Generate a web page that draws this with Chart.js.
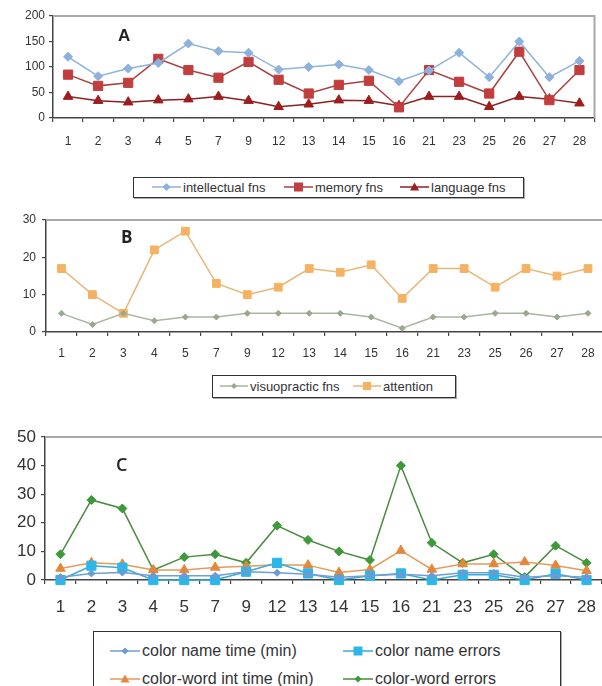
<!DOCTYPE html>
<html><head><meta charset="utf-8">
<script src="https://cdn.jsdelivr.net/npm/chart.js@4.4.1/dist/chart.umd.min.js"></script>
<style>
html,body{margin:0;padding:0;background:#fff;width:602px;height:686px;overflow:hidden;position:relative;font-family:"Liberation Sans",Arial,sans-serif;}
.wrap{position:absolute;left:0;}
.legend{position:absolute;border:1px solid #333;background:#fff;box-shadow:1px 1px 0 #aaa;color:#333;}
.item{position:absolute;display:flex;align-items:center;white-space:nowrap;line-height:1;}
.letter{position:absolute;color:#222;}
</style></head><body>
<div class="wrap" style="top:0px"><canvas id="cA" width="602" height="160"></canvas></div>
<div class="wrap" style="top:200px"><canvas id="cB" width="610" height="170"></canvas></div>
<div class="wrap" style="top:420px"><canvas id="cC" width="610" height="200"></canvas></div>
<div class="legend" id="legA" style="left:133px;top:177px;width:389px;height:19px"></div>
<div class="legend" id="legB" style="left:212px;top:375px;width:242px;height:21px"></div>
<div class="legend" id="legC" style="left:93px;top:631px;width:466px;height:62px"></div>
<div class="letter" style="left:118px;top:26px;font:bold 17px 'Liberation Sans',Arial,sans-serif">A</div>
<div class="letter" style="left:121px;top:225px;font:bold 17px 'Open Sans',sans-serif">B</div>
<div class="letter" style="left:116px;top:452px;font:600 18px 'Open Sans',sans-serif">C</div>
<script>
// ---- data ----
const categories = ['1','2','3','4','5','7','9','12','13','14','15','16','21','23','25','26','27','28'];
// Panel A
const intellectualFns = [120,82,97,108,146,131,128,95,100,105,94,72,93,128,80,150,80,112];
const memoryFns       = [85,63,69,116,94,79,110,75,48,65,73,21,94,71,48,130,35,94];
const languageFns     = [42,34,31,35,37,42,34,22,27,35,34,24,42,42,22,42,37,29];
// Panel B
const visuopracticFns = [5,2,5,3,4,4,5,5,5,5,4,1,4,4,5,5,4,5];
const attention       = [17,10,5,22,27,13,10,12,17,16,18,9,17,17,12,17,15,17];
// Panel C
const colorNameTime   = [1,2.3,2.6,1.5,1.5,1.5,2.9,2.5,2,1,1.5,2,1.5,2.5,2.5,1,1.5,1];
const colorNameErrors = [0,5,4.3,0,0,0,2.9,6,2.3,0,1.5,2.3,0,1.8,1.8,0,2.2,0];
const colorWordTime   = [4,6,5.5,3.5,3.5,4.4,4.8,5.3,5.2,2.6,3.7,10.3,3.7,5.6,5.6,6.3,5.1,3.2];
const colorWordErrors = [9,28,25,3.5,8,9,6,19,14,10,7,40,13,6,9,1,12,6];
// y tick settings
const yTicksA = {max:200, step:50};
const yTicksB = {max:30, step:10};
const yTicksC = {max:50, step:10};

const FONT = "'Liberation Sans', Arial, sans-serif";
Chart.defaults.animation = false;

function markerSvg(ds, w) {
  const ns = 'http://www.w3.org/2000/svg';
  const h = 14;
  const svg = document.createElementNS(ns, 'svg');
  svg.setAttribute('width', w); svg.setAttribute('height', h);
  const line = document.createElementNS(ns, 'line');
  line.setAttribute('x1', 0); line.setAttribute('x2', w);
  line.setAttribute('y1', h/2); line.setAttribute('y2', h/2);
  line.setAttribute('stroke', ds.borderColor); line.setAttribute('stroke-width', 1.5);
  svg.appendChild(line);
  const cx = w/2, cy = h/2, r = ds.legendR || 4;
  let pts;
  if (ds.pointStyle === 'rect') {
    const s = r; pts = [[cx-s,cy-s],[cx+s,cy-s],[cx+s,cy+s],[cx-s,cy+s]];
  } else if (ds.pointStyle === 'triangle') {
    pts = [[cx,cy-r],[cx+r,cy+r*0.75],[cx-r,cy+r*0.75]];
  } else {
    pts = [[cx,cy-r],[cx+r,cy],[cx,cy+r],[cx-r,cy]];
  }
  const poly = document.createElementNS(ns, 'polygon');
  poly.setAttribute('points', pts.map(p => p.join(',')).join(' '));
  poly.setAttribute('fill', ds.pointBackgroundColor);
  svg.appendChild(poly);
  return svg;
}

const htmlLegend = {
  id: 'htmlLegend',
  afterUpdate(chart, args, opts) {
    const box = document.getElementById(opts.containerID);
    if (!box) return;
    box.innerHTML = '';
    const items = Chart.defaults.plugins.legend.labels.generateLabels(chart);
    items.forEach((it, i) => {
      const ds = chart.data.datasets[it.datasetIndex];
      const pos = opts.positions[i];
      const div = document.createElement('div');
      div.className = 'item';
      div.style.left = pos[0] + 'px';
      div.style.top = pos[1] + 'px';
      div.style.fontSize = opts.fontSize + 'px';
      div.appendChild(markerSvg(ds, opts.markerW));
      const span = document.createElement('span');
      span.textContent = it.text;
      span.style.marginLeft = '2px';
      div.appendChild(span);
      box.appendChild(div);
    });
  }
};

const frame = {
  id: 'frame',
  beforeDatasetsDraw(chart, args, opts) {
    const {ctx, chartArea: a} = chart;
    ctx.save();
    ctx.strokeStyle = opts.color || '#aaa';
    ctx.lineWidth = opts.width || 2;
    ctx.beginPath();
    ctx.moveTo(a.left, a.top);
    ctx.lineTo(a.right, a.top);
    if (opts.right) ctx.lineTo(a.right, a.bottom);
    ctx.stroke();
    ctx.restore();
  }
};

function ds(label, data, color, pointColor, style, r, legendR) {
  return {
    label, data,
    borderColor: color, backgroundColor: pointColor,
    pointBackgroundColor: pointColor, pointBorderColor: pointColor,
    pointStyle: style, pointRadius: r, pointBorderWidth: 1,
    borderWidth: 1.5, tension: 0, clip: false, legendR
  };
}

function makeChart(id, datasets, yt, o) {
  return new Chart(document.getElementById(id), {
    type: 'line',
    data: { labels: categories, datasets },
    options: {
      responsive: false,
      layout: { padding: { top: o.top, right: o.right, left: 0, bottom: 0 } },
      plugins: {
        legend: { display: false },
        tooltip: { enabled: false },
        htmlLegend: o.legend,
        frame: { color: '#a8a8a8', width: 2, right: o.frameRight }
      },
      scales: {
        x: {
          type: 'category', offset: true,
          grid: { offset: true, drawOnChartArea: false, drawTicks: true, tickLength: 4, color: '#444', lineWidth: 1.2 },
          border: { display: true, color: '#444', width: 1.5 },
          ticks: { autoSkip: false, maxRotation: 0, color: '#333', padding: o.xPad, font: { family: FONT, size: o.fs } },
          afterFit: s => { s.height = o.xH; }
        },
        y: {
          min: 0, max: yt.max,
          grid: { drawOnChartArea: false, drawTicks: true, tickLength: 4, color: '#444', lineWidth: 1.2 },
          border: { display: true, color: '#444', width: 1.5 },
          ticks: { stepSize: yt.step, color: '#333', padding: o.yPad, font: { family: FONT, size: o.fs } },
          afterFit: s => { s.width = o.yW; }
        }
      }
    },
    plugins: [htmlLegend, frame]
  });
}

makeChart('cA', [
  ds('intellectual fns', intellectualFns, '#8fb3dc', '#8db1dd', 'rectRot', 4.5, 4),
  ds('memory fns', memoryFns, '#a8423f', '#c23d3d', 'rect', 6.5, 4.5),
  ds('language fns', languageFns, '#8a2222', '#9e1d1d', 'triangle', 5.5, 4.5)
], yTicksA, {top: 16, right: 3, xH: 42, yW: 53, fs: 12, xPad: 12, yPad: 4, frameRight: true,
  legend: {containerID: 'legA', fontSize: 13, markerW: 29, positions: [[18,2],[150,2],[266,2]]}});

makeChart('cB', [
  ds('visuopractic fns', visuopracticFns, '#a9b6a2', '#98a98f', 'rectRot', 3, 3),
  ds('attention', attention, '#e9b679', '#f5b262', 'rect', 5.5, 4)
], yTicksB, {top: 20, right: 6, xH: 38, yW: 46, fs: 12, xPad: 10, yPad: 6, frameRight: false,
  legend: {containerID: 'legB', fontSize: 13, markerW: 28, positions: [[7,3],[140,3]]}});

makeChart('cC', [
  ds('color name time (min)', colorNameTime, '#6f9fd3', '#6a9bd3', 'rectRot', 3.5, 3.5),
  ds('color name errors', colorNameErrors, '#3aa9d8', '#2bb7ea', 'rect', 6.5, 4.5),
  ds('color-word int time (min)', colorWordTime, '#e49a5c', '#e5873a', 'triangle', 5.5, 4.5),
  ds('color-word errors', colorWordErrors, '#4a8c3e', '#3c9a38', 'rectRot', 4.5, 3.5)
], yTicksC, {top: 17, right: 8, xH: 40, yW: 45, fs: 17, xPad: 13, yPad: 5, frameRight: false,
  legend: {containerID: 'legC', fontSize: 16, markerW: 30, positions: [[16,11],[249,11],[16,39],[249,39]]}});
</script>
</body></html>
